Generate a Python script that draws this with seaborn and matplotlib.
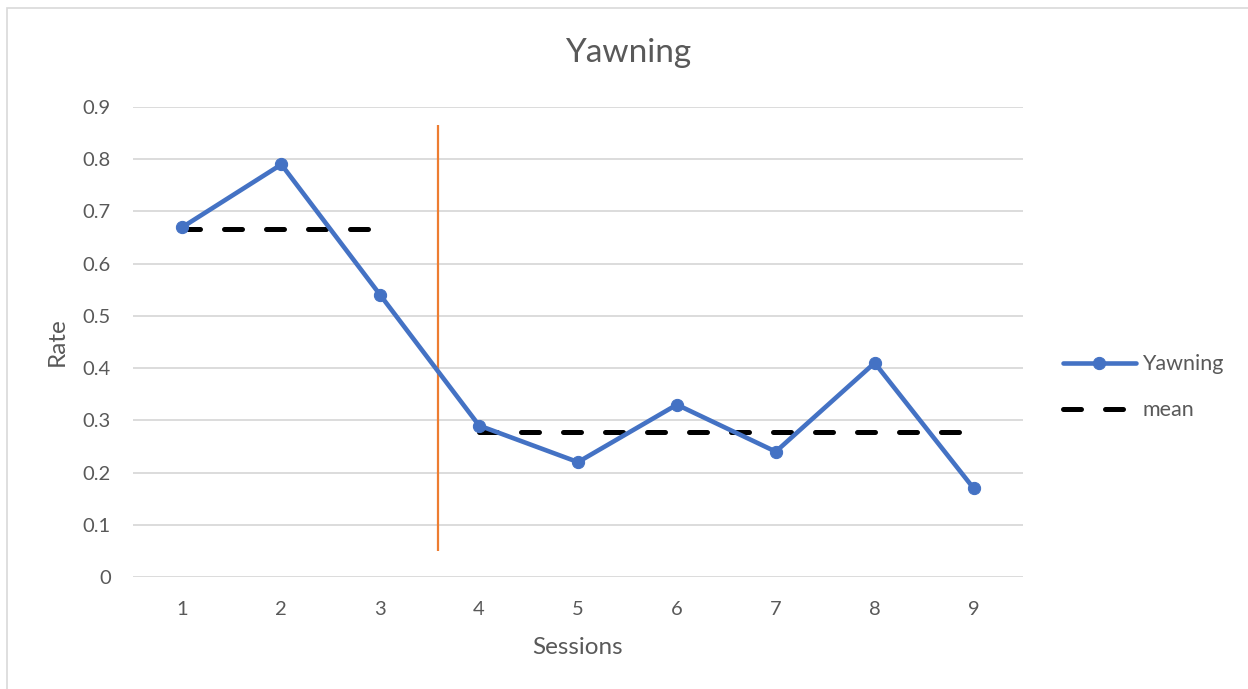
import matplotlib
matplotlib.use("Agg")
import matplotlib.pyplot as plt
from matplotlib.patches import Rectangle
import numpy as np
import pandas as pd
import seaborn as sns

# Session data
sessions = [1, 2, 3, 4, 5, 6, 7, 8, 9]
yawning = [0.67, 0.79, 0.54, 0.29, 0.22, 0.33, 0.24, 0.41, 0.17]
phase = ["A", "A", "A", "B", "B", "B", "B", "B", "B"]
mean_rate = [0.667, 0.667, 0.667, 0.277, 0.277, 0.277, 0.277, 0.277, 0.277]
y_ticks = [0, 0.1, 0.2, 0.3, 0.4, 0.5, 0.6, 0.7, 0.8, 0.9]
y_tick_labels = ["0", "0.1", "0.2", "0.3", "0.4", "0.5", "0.6", "0.7", "0.8", "0.9"]
phase_change_x = 3.58
phase_change_span = (0.05, 0.865)

df = pd.DataFrame({"Sessions": sessions, "Rate": yawning,
                   "phase": phase, "mean": mean_rate})

sns.set_theme(style="white")
plt.rcParams["font.family"] = ["Lato", "DejaVu Sans"]

TEXT = "#595959"
GRID = "#d9d9d9"
BLUE = "#4472c4"
ORANGE = "#ed7d31"

fig = plt.figure(figsize=(12.48, 6.89), dpi=100)
ax = fig.add_axes([133 / 1248, 1 - 577 / 689, (1023 - 133) / 1248, (577 - 107) / 689])

# Chart-area border
fig.patches.append(Rectangle((7 / 1248, -0.01), 1.2, 1 - 8 / 689 + 0.01,
                             transform=fig.transFigure, fill=False,
                             edgecolor=GRID, linewidth=1.2, zorder=0))

# Phase means, one segment per phase
for i, (ph, sub) in enumerate(df.groupby("phase")):
    sns.lineplot(data=sub, x="Sessions", y="mean", ax=ax, color="black",
                 linewidth=3.6, dashes=[(3.6, 4.8)],
                 style=[0] * len(sub), legend=False,
                 label="mean" if i == 0 else None, zorder=3)
for ln in ax.lines:
    ln.set_dash_capstyle("round")

# Phase-change line
ax.vlines(phase_change_x, *phase_change_span, color=ORANGE, linewidth=1.6, zorder=2)

# Main series
sns.lineplot(data=df, x="Sessions", y="Rate", ax=ax, color=BLUE,
             linewidth=3.3, marker="o", markersize=8.8,
             markeredgecolor=BLUE, label="Yawning", zorder=4)

ax.set_xlim(0.5, 9.5)
ax.set_ylim(0, 0.9)
ax.set_xticks(sessions)
ax.set_xticklabels([str(s) for s in sessions])
ax.set_yticks(y_ticks)
ax.set_yticklabels(y_tick_labels)
ax.yaxis.grid(True, color=GRID, linewidth=1.3)
ax.set_axisbelow(True)
for s in ax.spines.values():
    s.set_visible(False)
ax.tick_params(axis="both", length=0, labelsize=14.5, labelcolor=TEXT)
ax.tick_params(axis="y", pad=16)
ax.tick_params(axis="x", pad=17)

ax.set_xlabel("Sessions", fontsize=17.5, color=TEXT, labelpad=14)
ax.set_ylabel("Rate", fontsize=17.5, color=TEXT, labelpad=11)
fig.text(628 / 1248, 1 - 53 / 689, "Yawning", ha="center", va="center",
         fontsize=24, color=TEXT)

handles, labels = ax.get_legend_handles_labels()
order = [labels.index("Yawning"), labels.index("mean")]
leg = ax.legend([handles[i] for i in order], [labels[i] for i in order],
                loc="center left", bbox_to_anchor=(1.023, 0.404), frameon=False,
                fontsize=15.5, handlelength=3.4, handletextpad=0.28,
                labelspacing=1.2, labelcolor=TEXT)

fig.savefig("out.png", dpi=100)
